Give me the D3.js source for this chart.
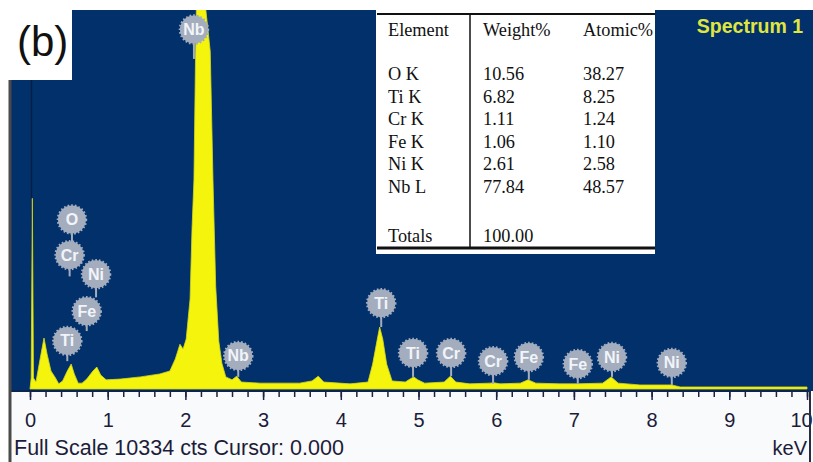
<!DOCTYPE html>
<html lang="en">
<head>
  <meta charset="UTF-8" />
  <title>EDS Spectrum 1</title>
  <style>
    body { margin: 0; background: #fff; }
    svg { display: block; }
  </style>
</head>
<body>
  <svg id="chart" width="813" height="462"></svg>

  <script src="https://d3js.org/d3.v7.min.js"></script>
  <script>
    // spectrum (keV vs counts)
    const energy = [0, 0.015, 0.03, 0.045, 0.077, 0.13, 0.18, 0.22, 0.27, 0.32, 0.37, 0.42, 0.48, 0.53, 0.57,
      0.62, 0.67, 0.73, 0.81, 0.86, 0.91, 0.98, 1.16, 1.42, 1.67, 1.80, 1.87, 1.93, 1.97, 2.01, 2.06, 2.085,
      2.11, 2.13, 2.15, 2.19, 2.23, 2.25, 2.32, 2.355, 2.39, 2.43, 2.47, 2.52, 2.60, 2.66, 2.72, 2.96, 3.47,
      3.63, 3.71, 3.78, 4.12, 4.35, 4.41, 4.47, 4.50, 4.54, 4.59, 4.66, 4.83, 4.89, 4.94, 4.99, 5.08, 5.33,
      5.41, 5.48, 5.66, 5.92, 5.97, 6.05, 6.31, 6.41, 6.51, 6.82, 7.05, 7.37, 7.48, 7.57, 7.85, 8.26, 8.37,
      8.88, 10];
    const counts = [0, 300, 5200, 300, 190, 820, 1390, 950, 490, 330, 140, 220, 490, 680, 410,
      160, 160, 270, 490, 600, 380, 250, 270, 330, 410, 490, 820, 1220, 1090, 1360, 2450, 4350,
      5700, 9000, 11500, 14000, 13000, 10600, 9200, 5700, 2800, 1300, 700, 330, 250, 350, 190, 160, 160,
      220, 350, 190, 140, 190, 680, 1360, 1690, 1360, 680, 220, 190, 270, 330, 250, 160, 190,
      350, 190, 140, 160, 170, 140, 160, 250, 160, 140, 140, 160, 330, 160, 110, 110, 55,
      55, 55];

    // peak markers
    const markNames = ["Nb", "O", "Cr", "Ni", "Fe", "Ti", "Nb", "Ti", "Ti", "Cr", "Cr", "Fe", "Fe", "Ni", "Ni"];
    const markEnergy = [2.11, 0.54, 0.51, 0.85, 0.73, 0.48, 2.68, 4.52, 4.93, 5.42, 5.96, 6.42, 7.05, 7.49, 8.26];
    const markCounts = [9800, 4620, 3650, 3130, 2120, 1310, 900, 2340, 980, 980, 760, 870, 680, 870, 710];
    const stemCounts = [9000, 3900, 3070, 2500, 1580, 760, 330, 1690, 330, 350, 140, 250, 140, 330, 110];

    // quantification table
    const tableElements = ["O K", "Ti K", "Cr K", "Fe K", "Ni K", "Nb L"];
    const tableWeight = ["10.56", "6.82", "1.11", "1.06", "2.61", "77.84"];
    const tableAtomic = ["38.27", "8.25", "1.24", "1.10", "2.58", "48.57"];

    const majorTicks = d3.range(0, 11, 1);
    const minorTicks = d3.range(0, 10.01, 0.2);

    const svg = d3.select("#chart");
    const plot = {left: 10, right: 813, top: 10, bottom: 391};

    const x = d3.scaleLinear().domain([0, 10]).range([30, 807]);
    const y = d3.scaleLinear().domain([0, 10334]).range([389, plot.top]);

    // backgrounds
    svg.append("rect")
      .attr("x", plot.left).attr("y", plot.top)
      .attr("width", plot.right - plot.left).attr("height", plot.bottom - plot.top)
      .attr("fill", "#01306b");

    svg.append("clipPath").attr("id", "clip")
      .append("rect")
      .attr("x", plot.left).attr("y", plot.top)
      .attr("width", plot.right - plot.left).attr("height", plot.bottom - plot.top);

    const spec = energy.map((e, i) => ({e, c: counts[i]}));

    // cursor line at 0 keV
    svg.append("line")
      .attr("x1", x(0) + 1.5).attr("x2", x(0) + 1.5)
      .attr("y1", plot.top).attr("y2", plot.bottom + 8)
      .attr("stroke", "#0b1c3e").attr("stroke-width", 1.2);

    svg.append("path")
      .datum(spec)
      .attr("clip-path", "url(#clip)")
      .attr("fill", "#f4f40c")
      .attr("stroke", "#d4d820")
      .attr("stroke-width", 0.8)
      .attr("d", d3.area().x(d => x(d.e)).y0(y(0)).y1(d => y(d.c)));

    // peak markers
    const marks = markNames.map((n, i) => ({n, e: markEnergy[i], c: markCounts[i], s: stemCounts[i]}));
    const mg = svg.append("g").selectAll("g").data(marks).join("g");
    mg.append("line")
      .attr("x1", d => x(d.e)).attr("x2", d => x(d.e))
      .attr("y1", d => y(d.c)).attr("y2", d => y(d.s))
      .attr("stroke", "#a4adbe").attr("stroke-width", 2);
    mg.append("circle")
      .attr("cx", d => x(d.e)).attr("cy", d => y(d.c))
      .attr("r", 14)
      .attr("fill", "#a4adbe")
      .attr("stroke", "#a4adbe")
      .attr("stroke-width", 2.5)
      .attr("stroke-dasharray", "1.6 2");
    mg.append("text")
      .attr("x", d => x(d.e)).attr("y", d => y(d.c) + 5.5)
      .attr("text-anchor", "middle")
      .attr("font-family", "Liberation Sans, Arial, sans-serif")
      .attr("font-size", 16)
      .attr("font-weight", "bold")
      .attr("fill", "#f1f4f8")
      .text(d => d.n);

    // axis area
    svg.append("rect")
      .attr("x", plot.left).attr("y", plot.bottom)
      .attr("width", 799).attr("height", 462 - plot.bottom)
      .attr("fill", "#f8fafb");

    svg.append("g")
      .attr("transform", `translate(0,${plot.bottom})`)
      .call(d3.axisBottom(x).tickValues(minorTicks).tickFormat("").tickSize(6))
      .call(g => g.select(".domain").remove())
      .call(g => g.selectAll("line").attr("stroke", "#1c2244").attr("stroke-width", 1.5));

    const ax = svg.append("g")
      .attr("transform", `translate(0,${plot.bottom})`)
      .call(d3.axisBottom(x).tickValues(majorTicks).tickFormat(d3.format("d")).tickSize(9).tickPadding(13));
    ax.select(".domain").remove();
    ax.selectAll("line").attr("stroke", "#1c2244").attr("stroke-width", 1.5);
    ax.selectAll("text")
      .attr("font-family", "Liberation Sans, Arial, sans-serif")
      .attr("font-size", 20)
      .attr("fill", "#1c1c3a");
    ax.selectAll("text").filter(d => d === 10).attr("dx", "-0.3em");

    svg.append("line")
      .attr("x1", plot.left).attr("x2", 809)
      .attr("y1", plot.bottom).attr("y2", plot.bottom)
      .attr("stroke", "#0d2452").attr("stroke-width", 2);

    svg.append("text")
      .attr("x", 14).attr("y", 455)
      .attr("font-family", "Liberation Sans, Arial, sans-serif")
      .attr("font-size", 21.5)
      .attr("fill", "#1c1c3a")
      .text("Full Scale 10334 cts Cursor: 0.000");

    svg.append("text")
      .attr("x", 807).attr("y", 455)
      .attr("text-anchor", "end")
      .attr("font-family", "Liberation Sans, Arial, sans-serif")
      .attr("font-size", 20)
      .attr("fill", "#1c1c3a")
      .text("keV");

    // frame
    svg.append("line")
      .attr("x1", 10).attr("x2", 10).attr("y1", plot.top).attr("y2", 462)
      .attr("stroke", "#4a4a4a").attr("stroke-width", 3);
    svg.append("line")
      .attr("x1", 810).attr("x2", 810).attr("y1", plot.bottom).attr("y2", 462)
      .attr("stroke", "#2a2a40").attr("stroke-width", 2);

    svg.append("text")
      .attr("x", 803).attr("y", 33)
      .attr("text-anchor", "end")
      .attr("font-family", "Liberation Sans, Arial, sans-serif")
      .attr("font-size", 19.5)
      .attr("font-weight", "bold")
      .attr("fill", "#e0e640")
      .text("Spectrum 1");

    // (b) panel tag
    svg.append("rect")
      .attr("x", 8).attr("y", 0).attr("width", 64).attr("height", 80)
      .attr("fill", "#fff");
    svg.append("text")
      .attr("x", 17).attr("y", 56)
      .attr("font-family", "Liberation Sans, Arial, sans-serif")
      .attr("font-size", 42)
      .attr("fill", "#111")
      .text("(b)");

    // table
    const tb = svg.append("g");
    tb.append("rect")
      .attr("x", 376).attr("y", 0).attr("width", 279).attr("height", 254)
      .attr("fill", "#fff");
    tb.append("line").attr("x1", 377).attr("x2", 655).attr("y1", 14).attr("y2", 14)
      .attr("stroke", "#111").attr("stroke-width", 2);
    tb.append("line").attr("x1", 377).attr("x2", 655).attr("y1", 248).attr("y2", 248)
      .attr("stroke", "#111").attr("stroke-width", 3);
    tb.append("line").attr("x1", 470).attr("x2", 470).attr("y1", 14).attr("y2", 248)
      .attr("stroke", "#111").attr("stroke-width", 1.5);

    const colX = [388, 483, 583];
    const serif = "Liberation Serif, Times New Roman, serif";
    const cell = (tx, ty, s) => tb.append("text")
      .attr("x", tx).attr("y", ty)
      .attr("font-family", serif).attr("font-size", 18.3).attr("fill", "#111")
      .text(s);

    cell(colX[0], 36, "Element");
    cell(colX[1], 36, "Weight%");
    cell(colX[2], 36, "Atomic%");
    tableElements.forEach((el, i) => {
      const ty = 80 + i * 22.5;
      cell(colX[0], ty, el);
      cell(colX[1], ty, tableWeight[i]);
      cell(colX[2], ty, tableAtomic[i]);
    });
    cell(colX[0], 242, "Totals");
    cell(colX[1], 242, "100.00");
  </script>
</body>
</html>
